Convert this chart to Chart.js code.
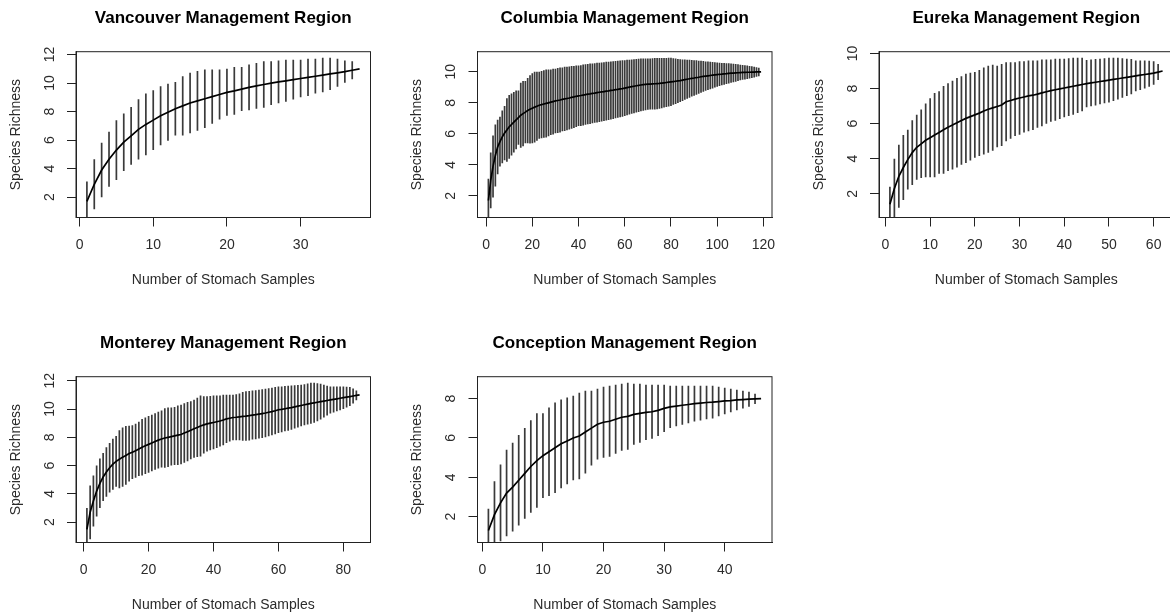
<!DOCTYPE html>
<html>
<head>
<meta charset="utf-8">
<title>Species accumulation curves by management region</title>
<script src="https://cdn.jsdelivr.net/npm/chart.js@4.4.1/dist/chart.umd.min.js"></script>
<style>
  html, body { margin: 0; padding: 0; background: #fff; }
  body { width: 1170px; height: 614px; position: relative; overflow: hidden; }
  canvas { position: absolute; }
</style>
</head>
<body>
<canvas id="vancouver"  width="401" height="300" style="left:0px;top:0px"></canvas>
<canvas id="columbia"   width="401" height="300" style="left:401px;top:0px"></canvas>
<canvas id="eureka"     width="401" height="300" style="left:803px;top:0px"></canvas>
<canvas id="monterey"   width="401" height="300" style="left:0px;top:325px"></canvas>
<canvas id="conception" width="401" height="300" style="left:401px;top:325px"></canvas>
<script>
// mean richness and half-width of the error bar for 1..N stomach samples

const vancouverRichness = [1.7, 2.9, 3.9, 4.65, 5.3, 5.85, 6.3, 6.75, 7.1, 7.4,
  7.7, 7.95, 8.2, 8.4, 8.6, 8.75, 8.9, 9.05, 9.2, 9.35,
  9.45, 9.58, 9.7, 9.8, 9.9, 10.0, 10.08, 10.16, 10.24, 10.32,
  10.4, 10.48, 10.56, 10.64, 10.72, 10.8, 10.9, 11.0];
const vancouverCI = [1.4, 1.75, 1.91, 1.93, 2.1, 2.01, 2.03, 2.11, 2.16, 2.09,
  2.07, 2.0, 1.87, 2.07, 2.12, 2.09, 2.05, 1.9, 1.75, 1.65,
  1.67, 1.54, 1.6, 1.6, 1.63, 1.53, 1.5, 1.47, 1.39, 1.31,
  1.3, 1.22, 1.21, 1.13, 0.98, 0.78, 0.63, 0];

const columbiaRichness = [1.7, 3.0, 3.9, 4.6, 5.15, 5.5, 5.8, 6.05, 6.25, 6.45,
  6.6, 6.75, 6.9, 7.05, 7.2, 7.3, 7.4, 7.5, 7.58, 7.65,
  7.72, 7.78, 7.84, 7.88, 7.92, 7.96, 8.0, 8.04, 8.08, 8.12,
  8.15, 8.18, 8.22, 8.25, 8.28, 8.31, 8.35, 8.38, 8.42, 8.45,
  8.47, 8.5, 8.53, 8.56, 8.58, 8.61, 8.63, 8.66, 8.68, 8.7,
  8.72, 8.75, 8.77, 8.8, 8.82, 8.85, 8.87, 8.9, 8.92, 8.95,
  8.98, 9.01, 9.04, 9.07, 9.1, 9.12, 9.15, 9.17, 9.19, 9.2,
  9.21, 9.22, 9.23, 9.24, 9.25, 9.27, 9.29, 9.31, 9.33, 9.35,
  9.37, 9.39, 9.41, 9.43, 9.46, 9.49, 9.52, 9.55, 9.58, 9.6,
  9.63, 9.65, 9.68, 9.7, 9.72, 9.74, 9.76, 9.78, 9.8, 9.82,
  9.84, 9.85, 9.87, 9.88, 9.9, 9.91, 9.92, 9.93, 9.94, 9.95,
  9.96, 9.96, 9.97, 9.97, 9.98, 9.98, 9.99, 9.99, 10.0];
const columbiaCI = [1.4, 1.8, 2.0, 2.0, 1.75, 1.6, 1.7, 1.75, 2.05, 2.05,
  2.0, 1.95, 1.9, 1.75, 2.1, 2.1, 2.0, 2.1, 2.2, 2.25,
  2.28, 2.22, 2.16, 2.17, 2.18, 2.19, 2.15, 2.11, 2.12, 2.08,
  2.1, 2.09, 2.06, 2.07, 2.05, 2.03, 2.02, 2.0, 1.98, 1.95,
  1.96, 1.97, 1.95, 1.94, 1.95, 1.93, 1.92, 1.93, 1.91, 1.9,
  1.9, 1.89, 1.88, 1.87, 1.86, 1.85, 1.84, 1.83, 1.82, 1.8,
  1.79, 1.77, 1.75, 1.74, 1.73, 1.72, 1.7, 1.69, 1.67, 1.65,
  1.64, 1.65, 1.66, 1.65, 1.64, 1.62, 1.6, 1.58, 1.57, 1.55,
  1.5, 1.46, 1.42, 1.38, 1.34, 1.3, 1.26, 1.22, 1.18, 1.15,
  1.11, 1.07, 1.03, 0.99, 0.95, 0.92, 0.88, 0.85, 0.81, 0.78,
  0.75, 0.72, 0.7, 0.67, 0.65, 0.62, 0.6, 0.57, 0.54, 0.5,
  0.48, 0.46, 0.44, 0.41, 0.38, 0.35, 0.31, 0.27, 0];

const eurekaRichness = [1.4, 2.3, 3.0, 3.5, 3.95, 4.35, 4.65, 4.85, 5.05, 5.2,
  5.35, 5.5, 5.65, 5.8, 5.92, 6.05, 6.18, 6.3, 6.4, 6.5,
  6.6, 6.72, 6.82, 6.9, 6.98, 7.06, 7.25, 7.32, 7.4, 7.46,
  7.52, 7.58, 7.62, 7.68, 7.75, 7.82, 7.88, 7.93, 7.98, 8.03,
  8.08, 8.13, 8.18, 8.23, 8.28, 8.32, 8.36, 8.4, 8.44, 8.48,
  8.52, 8.56, 8.6, 8.64, 8.68, 8.72, 8.76, 8.8, 8.84, 8.88,
  8.94, 9.0];
const eurekaCI = [1.0, 1.7, 1.8, 1.85, 1.7, 1.85, 1.85, 1.95, 2.1, 2.25,
  2.4, 2.35, 2.5, 2.5, 2.53, 2.55, 2.52, 2.55, 2.5, 2.45,
  2.45, 2.48, 2.48, 2.45, 2.32, 2.34, 2.25, 2.18, 2.1, 2.09,
  2.03, 2.02, 1.98, 1.92, 1.9, 1.83, 1.77, 1.77, 1.72, 1.67,
  1.64, 1.62, 1.57, 1.52, 1.34, 1.33, 1.32, 1.3, 1.28, 1.27,
  1.23, 1.19, 1.12, 1.06, 1.0, 0.88, 0.84, 0.8, 0.74, 0.67,
  0.46, 0];

const montereyRichness = [1.5, 2.7, 3.5, 4.2, 4.75, 5.2, 5.55, 5.85, 6.1, 6.3,
  6.45, 6.6, 6.72, 6.85, 6.95, 7.05, 7.18, 7.3, 7.4, 7.5,
  7.6, 7.7, 7.8, 7.88, 7.95, 8.0, 8.05, 8.1, 8.15, 8.2,
  8.3, 8.4, 8.5, 8.6, 8.7, 8.8, 8.88, 8.95, 9.0, 9.05,
  9.1, 9.15, 9.22, 9.3, 9.35, 9.4, 9.42, 9.45, 9.48, 9.5,
  9.53, 9.57, 9.6, 9.64, 9.68, 9.72, 9.77, 9.82, 9.88, 9.95,
  9.98, 10.02, 10.06, 10.1, 10.15, 10.2, 10.25, 10.3, 10.35, 10.4,
  10.44, 10.48, 10.52, 10.56, 10.6, 10.64, 10.68, 10.72, 10.76, 10.8,
  10.84, 10.88, 10.92, 10.96, 11.0];
const montereyCI = [1.5, 1.9, 1.8, 1.8, 1.75, 1.7, 1.75, 1.75, 1.8, 1.8,
  2.05, 2.1, 2.08, 1.97, 1.9, 1.9, 1.92, 2.0, 2.0, 2.0,
  2.0, 2.0, 2.0, 2.02, 2.1, 2.1, 2.05, 2.05, 2.1, 2.1,
  2.1, 2.1, 2.05, 2.05, 2.1, 2.15, 2.02, 1.95, 1.92, 1.9,
  1.85, 1.8, 1.78, 1.7, 1.65, 1.6, 1.63, 1.65, 1.72, 1.75,
  1.75, 1.73, 1.73, 1.72, 1.72, 1.71, 1.69, 1.68, 1.67, 1.65,
  1.62, 1.6, 1.59, 1.56, 1.53, 1.5, 1.47, 1.45, 1.45, 1.45,
  1.41, 1.34, 1.26, 1.16, 1.05, 0.96, 0.92, 0.88, 0.84, 0.8,
  0.74, 0.67, 0.53, 0.34, 0];

const conceptionRichness = [1.3, 2.1, 2.7, 3.2, 3.5, 3.85, 4.2, 4.55, 4.85, 5.1,
  5.3, 5.5, 5.7, 5.85, 6.0, 6.1, 6.3, 6.5, 6.7, 6.8,
  6.85, 6.95, 7.05, 7.1, 7.2, 7.25, 7.3, 7.33, 7.4, 7.5,
  7.58, 7.62, 7.66, 7.7, 7.74, 7.77, 7.8, 7.82, 7.85, 7.88,
  7.9, 7.93, 7.95, 7.97, 7.99, 8.0];
const conceptionCI = [1.1, 1.7, 1.95, 2.2, 2.25, 2.3, 2.3, 2.35, 2.4, 2.15,
  2.25, 2.3, 2.25, 2.2, 2.15, 2.2, 2.1, 1.9, 1.8, 1.8,
  1.8, 1.75, 1.7, 1.7, 1.55, 1.5, 1.4, 1.37, 1.3, 1.2,
  1.07, 1.03, 0.99, 0.95, 0.91, 0.88, 0.85, 0.83, 0.75, 0.67,
  0.6, 0.52, 0.45, 0.38, 0.26, 0];

// axis tick values
const vancouverXTicks  = [0, 10, 20, 30];
const columbiaXTicks   = [0, 20, 40, 60, 80, 100, 120];
const eurekaXTicks     = [0, 10, 20, 30, 40, 50, 60];
const montereyXTicks   = [0, 20, 40, 60, 80];
const conceptionXTicks = [0, 10, 20, 30, 40];
const richnessTicks12  = [2, 4, 6, 8, 10, 12];
const richnessTicks10  = [2, 4, 6, 8, 10];
const richnessTicks8   = [2, 4, 6, 8];

const FONT = '"Liberation Sans", Arial, Helvetica, sans-serif';
const INK = '#000';
const LABEL_INK = '#2b2b2b';
const BAR_INK = '#3a3a3a';
const PLOT_W = 294.5;   // plot box width
const PLOT_TOP = 51.7;  // title block height above the box
const X_AXIS_H = 82.5;  // space under the box for tick labels and axis title

// full frame around the plotting region, like R's box()
const plotBox = {
  id: 'plotBox',
  afterDraw(chart) {
    const {ctx, chartArea: a} = chart;
    ctx.save();
    ctx.strokeStyle = '#222';
    ctx.lineWidth = 1;
    ctx.strokeRect(a.left, a.top, a.right - a.left, a.bottom - a.top);
    ctx.restore();
  }
};

function accumChart(id, title, richness, ci, xTicks, yTicks, axisWidth) {
  const n = richness.length;
  const samples = richness.map((r, i) => i + 1);
  const upper = richness.map((r, i) => r + ci[i]);
  // R pads the data range by 4% on each side
  const yLo = 1, yHi = Math.max(...upper);
  const xPad = 0.04 * (n - 1), yPad = 0.04 * (yHi - yLo);
  const digits = Math.max(...yTicks.map(v => String(v).length));

  return new Chart(document.getElementById(id), {
    type: 'line',
    data: {
      datasets: [
        {
          type: 'line',
          data: samples.map((s, i) => ({x: s, y: richness[i]})),
          borderColor: INK,
          borderWidth: 1.7,
          pointRadius: 0,
          tension: 0,
          fill: false,
          order: 0
        },
        {
          type: 'bar',
          data: samples.map((s, i) => ({x: s, y: [richness[i] - ci[i], richness[i] + ci[i]]})),
          backgroundColor: BAR_INK,
          borderWidth: 0,
          barThickness: 1.7,
          inflateAmount: 0,
          order: 1
        }
      ]
    },
    options: {
      responsive: false,
      animation: false,
      devicePixelRatio: 1,
      events: [],
      layout: {padding: {left: 0, top: 0, bottom: 0, right: 401 - axisWidth - PLOT_W}},
      plugins: {
        legend: {display: false},
        tooltip: {enabled: false},
        title: {
          display: true,
          text: title,
          fullSize: false,
          color: INK,
          font: {family: FONT, size: 17, weight: 'bold', lineHeight: 1.2},
          padding: {top: 8, bottom: PLOT_TOP - 8 - 20.4}
        }
      },
      scales: {
        x: {
          type: 'linear',
          min: 1 - xPad,
          max: n + xPad,
          offset: false,
          afterBuildTicks: s => { s.ticks = xTicks.map(v => ({value: v})); },
          afterFit: s => { s.height = X_AXIS_H; },
          grid: {display: true, offset: false, drawOnChartArea: false, drawTicks: true, tickLength: 9, color: '#222'},
          border: {display: true, color: '#222'},
          ticks: {autoSkip: false, maxRotation: 0, padding: 10.3, color: LABEL_INK, font: {family: FONT, size: 14}},
          title: {
            display: true,
            text: 'Number of Stomach Samples',
            color: LABEL_INK,
            font: {family: FONT, size: 14, lineHeight: 1.2},
            padding: {top: 0, bottom: 300 - PLOT_TOP - 165.8 - 63 - 8.4}
          }
        },
        y: {
          type: 'linear',
          min: yLo - yPad,
          max: yHi + yPad,
          beginAtZero: false,
          afterBuildTicks: s => { s.ticks = yTicks.map(v => ({value: v})); },
          afterFit: s => { s.width = axisWidth; },
          grid: {display: true, drawOnChartArea: false, drawTicks: true, tickLength: 9, color: '#222'},
          border: {display: true, color: '#222'},
          ticks: {
            minRotation: 90,
            maxRotation: 90,
            crossAlign: 'center',
            padding: 17 - 3.9 * digits,
            color: LABEL_INK,
            font: {family: FONT, size: 14}
          },
          title: {
            display: true,
            text: 'Species Richness',
            color: LABEL_INK,
            font: {family: FONT, size: 14, lineHeight: 1.2},
            padding: {top: axisWidth - 60 - 8.4, bottom: 0}
          }
        }
      }
    },
    plugins: [plotBox]
  });
}

accumChart('vancouver', 'Vancouver Management Region', vancouverRichness, vancouverCI, vancouverXTicks, richnessTicks12, 76);
accumChart('columbia', 'Columbia Management Region', columbiaRichness, columbiaCI, columbiaXTicks, richnessTicks10, 76.5);
accumChart('eureka', 'Eureka Management Region', eurekaRichness, eurekaCI, eurekaXTicks, richnessTicks10, 76);
accumChart('monterey', 'Monterey Management Region', montereyRichness, montereyCI, montereyXTicks, richnessTicks12, 76);
accumChart('conception', 'Conception Management Region', conceptionRichness, conceptionCI, conceptionXTicks, richnessTicks8, 76.5);
</script>
</body>
</html>
